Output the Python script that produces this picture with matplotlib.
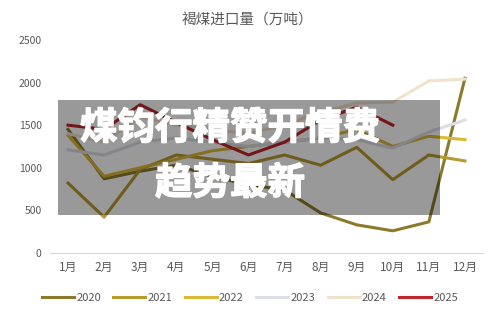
import matplotlib
matplotlib.use("Agg")
import matplotlib.pyplot as plt
import matplotlib.patheffects as pe
from matplotlib.patches import Rectangle

plt.rcParams['font.family'] = ['Noto Sans CJK SC', 'DejaVu Sans']

# data (万吨)
months = ["1月", "2月", "3月", "4月", "5月", "6月", "7月", "8月", "9月", "10月", "11月", "12月"]
y2020 = [1450, 870, 960, 1030, 900, 800, 740, 470, 330, 260, 365, 2050]
y2021 = [820, 420, 980, 1150, 1100, 1050, 1150, 1030, 1240, 860, 1150, 1080]
y2022 = [1380, 900, 1000, 1100, 1200, 1250, 1300, 1350, 1450, 1250, 1370, 1330]
y2023 = [1210, 1150, 1300, 1350, 1300, 1250, 1300, 1350, 1330, 1230, 1420, 1560]
y2024 = [1400, 1300, 1600, 1500, 1450, 1400, 1500, 1650, 1760, 1770, 2020, 2040]
y2025 = [1500, 1450, 1740, 1530, 1330, 1150, 1300, 1560, 1710, 1500]

series = [("2020", y2020, "#8c7a2b"),
          ("2021", y2021, "#b99a2f"),
          ("2022", y2022, "#dcb838"),
          ("2023", y2023, "#dcdfe6"),
          ("2024", y2024, "#f1e2cc"),
          ("2025", y2025, "#c0252b")]

fig = plt.figure(figsize=(5, 3.17), dpi=100)
ax = fig.add_axes([0.1, 0.202, 0.866, 0.672])

for name, vals, col in series:
    ax.plot(months[:len(vals)], vals, color=col, lw=2.2, label=name)

ax.set_ylim(0, 2500)
ax.set_xlim(-0.5, 11.5)
ax.set_yticks([0, 500, 1000, 1500, 2000, 2500])
for s in ["top", "right", "left"]:
    ax.spines[s].set_visible(False)
ax.spines["bottom"].set_color("#d9d9d9")
ax.tick_params(length=0, labelsize=7.5, labelcolor="#595959", pad=6)
ax.tick_params(axis="x", labelsize=8.5, pad=6)

fig.text(0.494, 0.935, "褐煤进口量（万吨）", ha="center", va="center",
         fontsize=10.5, color="#595959")

fig.legend(loc="center", bbox_to_anchor=(0.5, 0.06), ncol=6, frameon=False,
           fontsize=8, handlelength=2.9, columnspacing=1.1, handletextpad=0.2,
           labelcolor="#595959")

# grey banner with title text on top of the chart
fig.patches.append(Rectangle((0.116, 0.322), 0.764, 0.363, transform=fig.transFigure,
                             facecolor="black", alpha=0.4, edgecolor="none"))
stroke = [pe.withStroke(linewidth=1, foreground="white")]
fig.text(0.46, 0.597, "煤钧行精赞开情费", ha="center", va="center", fontsize=27,
         fontweight="heavy", color="white", path_effects=stroke)
fig.text(0.46, 0.423, "趋势最新", ha="center", va="center", fontsize=27,
         fontweight="heavy", color="white", path_effects=stroke)

fig.savefig("out.png", dpi=100)
